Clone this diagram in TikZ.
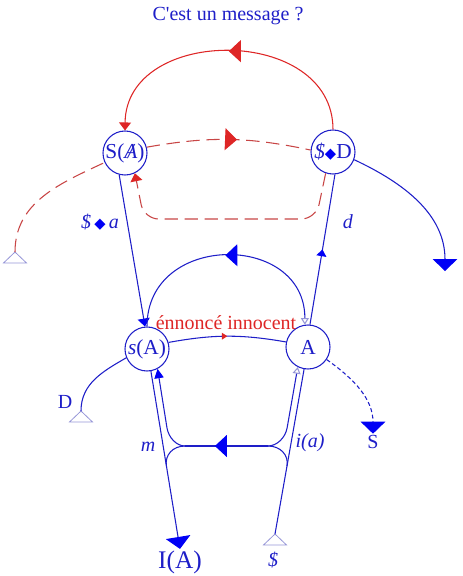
\documentclass[tikz,border=0pt]{standalone}
\usepackage{fontspec}
\setmainfont{Liberation Serif}
\newfontfamily\symfont{DejaVu Sans}
\usetikzlibrary{arrows.meta}
\usetikzlibrary{shapes.geometric, decorations.markings}

\definecolor{lineblue}{RGB}{30,30,200}
\definecolor{headblue}{RGB}{0,0,245}
\definecolor{msgred}{RGB}{222,38,38}
\definecolor{dashred}{RGB}{200,70,70}
\definecolor{pale}{RGB}{150,150,215}

\newcommand{\barredA}{\ooalign{\itshape A\cr\hidewidth\itshape/\hidewidth\cr}}
\newcommand{\losange}{{\color{headblue}\symfont\fontsize{11}{13}\selectfont ◆}}
\newcommand{\straightquote}{\XeTeXglyph\XeTeXcharglyph"27\relax}

\begin{document}
\begin{tikzpicture}[x=0.75pt, y=0.75pt,
	lbl/.style={font=\fontsize{15}{18}\selectfont, text=lineblue, inner sep=1pt},
	vertex/.style={circle, draw=lineblue, line width=0.8pt, minimum size=33pt, inner sep=0pt, font=\fontsize{16}{19}\selectfont, text=lineblue},
	foot/.style={draw=pale, line width=0.6pt},
	blueline/.style={draw=lineblue, line width=0.8pt},
	redline/.style={draw=msgred, line width=0.8pt},
	reddash/.style={draw=dashred, line width=0.8pt, dash pattern=on 10pt off 5pt},
	bigtip/.style={-{Triangle[width=18.5pt, length=9pt, color=headblue]}},
	midtip/.style n args={3}{postaction={decorate, decoration={markings, mark=at position #1 with {\arrow{Triangle[#2, color=#3]}}}}},
	pin/.style={{Triangle[open, width=6pt, length=5pt, color=pale]}-}]

	\useasboundingbox (0,0) rectangle (463,-576);

	% --- Vertices ---
	\node[vertex] (SA) at (125,-153) {S(\barredA)};
	\node[vertex] (SD) at (333,-152) {\textit{\$}\losange D};
	\node[vertex] (sA) at (147,-349) {\textit{s}(A)};
	\node[vertex] (A) at (308,-347) {A};

	% --- Labels ---
	\node[lbl] (msg) at (228,-16) {C\straightquote est un message ?};
	\node[lbl] (lSa) at (100,-222) {\textit{\$}\,\losange\,\textit{a}};
	\node[lbl] (ld) at (348,-222) {\textit{d}};
	\node[lbl, text=msgred] (enonce) at (226,-323) {énnoncé innocent};
	\node[lbl] (lD) at (65,-402) {D};
	\node[lbl] (lS) at (373,-442) {S};
	\node[lbl] (lm) at (148,-447) {\textit{m}};
	\node[lbl] (lia) at (310,-443) {\textit{i(a)}};
	\node[lbl, font=\fontsize{19}{22}\selectfont] (IA) at (180,-562) {I(A)};
	\node[lbl] (barS) at (273,-560) {\textit{\$}};

	% feet and sinks
	\coordinate (footL) at (15,-252);
	\coordinate (footD) at (81,-411);
	\coordinate (footS) at (275,-534);
	\coordinate (sinkR) at (445,-271);
	\coordinate (jl) at (185,-446);
	\coordinate (jr) at (268,-446);
	\foreach \f in {footL, footD, footS}
		\draw[foot] (\f) -- ++(-11.5,-11) -- ++(23,0) -- cycle;

	% --- Upper graph ---
	\draw[redline, midtip={0.5}{width=16.5pt, length=9pt}{msgred}, -{Triangle[width=9pt, length=6pt, color=msgred]}] (SD.north) .. controls (333,-25) and (126,-25) .. (SA.north);
	\draw[reddash, midtip={0.55}{width=16.5pt, length=9pt}{msgred}] (SA.15) to[bend left=11] (SD.175);
	\draw[reddash] (footL) to[out=90, in=205] (SA.205);
	\draw[reddash, rounded corners=11pt, -{Triangle[width=9pt, length=6pt, color=msgred]}] (SD.251) -- (316,-219) -- (144,-219) -- (SA.296);
	\draw[blueline, bigtip] (SD.-20) to[out=-25, in=90] (sinkR);
	\draw[blueline, -{Triangle[width=9pt, length=6pt, color=headblue]}] (SA.255) -- (sA.95);
	\draw[blueline, midtip={0.5}{width=7.5pt, length=5pt}{headblue}] (A.85) -- (SD.275);

	% --- Lower graph ---
	\draw[blueline, pin, midtip={0.5}{width=16.5pt, length=9pt}{headblue}] (A.98) .. controls (305,-232) and (147,-232) .. (sA.north);
	\draw[blueline, midtip={0.5}{width=5pt, length=4pt}{msgred}] (sA.17) to[bend left=10] (A.167);
	\draw[blueline] (sA.203) to[out=210, in=90] (footD);
	\draw[blueline, dash pattern=on 3pt off 2pt, bigtip] (A.-34) to[out=-35, in=90] (lS.north);

	% left pair
	\draw[blueline, bigtip] (sA.280) -- (IA.north);
	\draw[blueline, -{Triangle[width=7pt, length=7pt, color=headblue]}] (jl) .. controls (176.7,-446) and (168.7,-437.9) .. (167,-428) -- (sA.298);
	\draw[blueline] (jl) .. controls (172.9,-446) and (164.6,-455) .. (166.4,-466);
	\draw[blueline, midtip={0.64}{width=16.5pt, length=9pt}{headblue}] (jr) -- (jl);
	% right pair
	\draw[blueline] (footS) -- (A.260);
	\draw[blueline, pin] (A.243) -- (287.1,-428) .. controls (285.3,-437.9) and (276.7,-446) .. (jr);
	\draw[blueline] (jr) .. controls (280.4,-446) and (288.9,-455) .. (287,-466);
\end{tikzpicture}
\end{document}
